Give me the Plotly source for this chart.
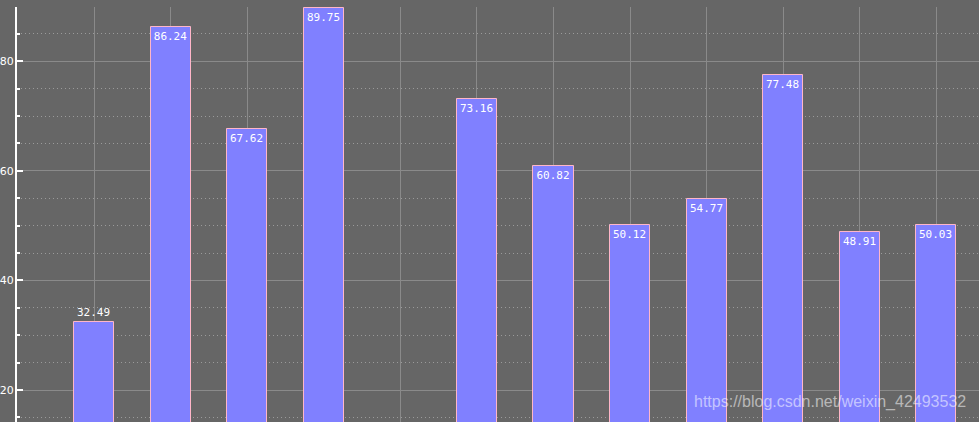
import plotly.graph_objects as go

categories = list(range(12))
values = [32.49, 86.24, 67.62, 89.75, None, 73.16, 60.82, 50.12, 54.77, 77.48, 48.91, 50.03]
label_pos = ["outside", "inside", "inside", "inside", "inside", "inside",
             "inside", "inside", "inside", "inside", "inside", "inside"]
y_ticks = [20, 40, 60, 80]

texts = ["" if v is None else f"{v:.2f}" for v in values]

fig = go.Figure()
fig.add_trace(go.Bar(
    x=categories, y=values, width=0.523,
    marker=dict(color="#8080ff", line=dict(color="#ffb6c8", width=1)),
    text=texts, textposition=label_pos, insidetextanchor="end",
    textfont=dict(family="DejaVu Sans Mono", size=11, color="white"),
    outsidetextfont=dict(family="DejaVu Sans Mono", size=11, color="white"),
    insidetextfont=dict(family="DejaVu Sans Mono", size=11, color="white"),
    cliponaxis=False, constraintext="none",
))

fig.update_layout(
    width=979, height=422,
    margin=dict(l=17, r=0, t=7, b=0, autoexpand=False),
    paper_bgcolor="#666666", plot_bgcolor="#666666",
    showlegend=False, bargap=0,
    uniformtext=dict(minsize=10, mode="show"),
)
fig.update_xaxes(
    range=[-1.01, 11.56], tickvals=categories, showticklabels=False,
    showgrid=True, gridcolor="#8a8a8a", gridwidth=1, ticks="",
    zeroline=False, showline=False, automargin=False,
)
fig.update_yaxes(
    range=[14.16, 89.9], tickvals=y_ticks, automargin=False,
    showgrid=True, gridcolor="#8a8a8a", gridwidth=1,
    showline=True, linecolor="white", linewidth=2,
    ticks="inside", ticklen=6, tickcolor="white", tickwidth=2,
    tickfont=dict(family="DejaVu Sans", size=11, color="white"),
    ticklabelstandoff=-1, zeroline=False,
    minor=dict(dtick=5, ticks="inside", ticklen=3, tickcolor="white", tickwidth=2,
               showgrid=True, gridcolor="#9a9a9a", griddash="1px,3px", gridwidth=1),
)
fig.add_annotation(
    x=(968 - 17) / 962, y=(422 - 402) / 415, xref="paper", yref="paper",
    text="https://blog.csdn.net/weixin_42493532",
    showarrow=False, xanchor="right", yanchor="middle",
    font=dict(family="Liberation Sans", size=16, color="rgba(255,255,255,0.55)"),
)

fig.write_html("out.html")
